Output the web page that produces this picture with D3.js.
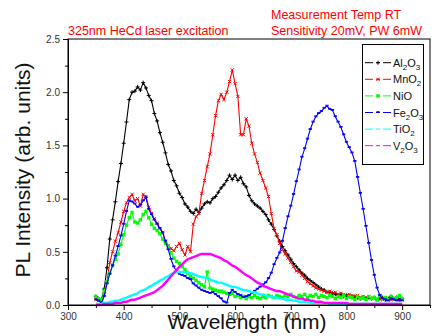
<!DOCTYPE html>
<html>
<head>
<meta charset="utf-8">
<script src="https://cdn.jsdelivr.net/npm/d3@7"></script>
<style>
  body { margin: 0; background: #fff; }
  svg { display: block; font-family: "Liberation Sans", Arial, sans-serif; }
</style>
</head>
<body>
<div id="chart"></div>
<script>
// sampling grid (nm), every 5 nm from 350 to 900
const wavelengths = d3.range(350, 901, 5);

const al2o3 = [
  0.08,0.06,0.05,0.15,0.35,0.62,0.80,0.97,1.16,1.33,
  1.52,1.72,1.93,2.00,2.01,2.05,2.02,2.09,2.04,1.97,
  1.92,1.80,1.73,1.62,1.53,1.43,1.32,1.26,1.17,1.12,
  1.05,1.01,0.95,0.92,0.88,0.86,0.90,0.87,0.91,0.95,
  0.97,0.96,1.00,1.02,1.06,1.10,1.13,1.17,1.22,1.18,
  1.22,1.17,1.20,1.14,1.11,1.03,0.98,0.95,0.93,0.91,
  0.88,0.85,0.80,0.76,0.71,0.65,0.60,0.55,0.51,0.47,
  0.43,0.39,0.36,0.33,0.30,0.28,0.25,0.23,0.21,0.19,
  0.17,0.15,0.14,0.12,0.12,0.11,0.10,0.09,0.10,0.08,
  0.09,0.08,0.07,0.08,0.07,0.06,0.07,0.06,0.07,0.06,
  0.07,0.05,0.06,0.07,0.05,0.06,0.08,0.06,0.07,0.05,
  0.06];

const mno2 = [
  0.05,0.04,0.03,0.10,0.22,0.40,0.50,0.60,0.68,0.78,
  0.88,0.96,1.01,1.04,0.98,1.00,0.93,1.04,1.02,0.92,
  0.86,0.81,0.77,0.72,0.68,0.60,0.56,0.53,0.51,0.55,
  0.58,0.52,0.47,0.55,0.50,0.76,0.83,0.86,1.05,1.17,
  1.30,1.42,1.60,1.78,1.92,1.98,1.93,2.00,2.10,2.21,
  2.08,1.96,1.60,1.60,1.75,1.68,1.52,1.42,1.34,1.24,
  1.17,1.10,1.02,0.86,0.72,0.66,0.58,0.52,0.48,0.44,
  0.40,0.36,0.32,0.31,0.28,0.25,0.22,0.20,0.18,0.16,
  0.15,0.14,0.13,0.12,0.13,0.11,0.12,0.10,0.11,0.10,
  0.09,0.10,0.09,0.08,0.09,0.07,0.08,0.07,0.08,0.06,
  0.07,0.05,0.06,0.05,0.06,0.05,0.05,0.06,0.05,0.05,
  0.05];

const nio = [
  0.08,0.06,0.05,0.13,0.22,0.30,0.37,0.43,0.48,0.57,
  0.66,0.75,0.82,0.87,0.78,0.77,0.80,0.85,0.88,0.82,
  0.76,0.72,0.70,0.67,0.62,0.58,0.55,0.49,0.44,0.41,
  0.39,0.36,0.33,0.30,0.27,0.25,0.23,0.21,0.19,0.17,
  0.31,0.16,0.15,0.14,0.13,0.13,0.12,0.11,0.10,0.11,
  0.08,0.09,0.07,0.08,0.06,0.08,0.07,0.09,0.07,0.06,
  0.08,0.07,0.09,0.08,0.07,0.09,0.08,0.07,0.09,0.08,
  0.10,0.08,0.07,0.09,0.08,0.10,0.07,0.09,0.08,0.10,
  0.07,0.09,0.08,0.07,0.09,0.08,0.06,0.08,0.07,0.09,
  0.06,0.08,0.07,0.05,0.08,0.06,0.07,0.05,0.08,0.06,
  0.07,0.05,0.09,0.06,0.07,0.05,0.08,0.06,0.07,0.09,
  0.06];

const fe2o3 = [
  0.05,0.04,0.02,0.08,0.20,0.29,0.37,0.46,0.55,0.65,
  0.76,0.88,0.98,0.97,0.95,0.92,0.94,0.98,1.01,0.90,
  0.85,0.80,0.76,0.72,0.68,0.60,0.52,0.43,0.36,0.32,
  0.29,0.28,0.27,0.25,0.24,0.20,0.18,0.16,0.14,0.13,
  0.12,0.11,0.12,0.10,0.08,0.06,0.03,0.02,0.11,0.14,
  0.12,0.10,0.09,0.07,0.08,0.09,0.11,0.13,0.15,0.17,
  0.19,0.21,0.25,0.30,0.38,0.44,0.49,0.60,0.72,0.83,
  0.93,1.04,1.16,1.27,1.39,1.47,1.56,1.65,1.72,1.77,
  1.80,1.82,1.85,1.87,1.84,1.83,1.77,1.72,1.67,1.60,
  1.53,1.48,1.43,1.35,1.20,1.05,0.90,0.74,0.58,0.42,
  0.28,0.16,0.09,0.06,0.05,0.04,0.06,0.05,0.04,0.05,
  0.04];

const tio2 = [
  0.01,0.01,0.01,0.02,0.02,0.03,0.03,0.04,0.04,0.05,
  0.06,0.07,0.08,0.09,0.10,0.11,0.13,0.14,0.15,0.17,
  0.18,0.20,0.21,0.23,0.24,0.26,0.27,0.29,0.30,0.31,
  0.31,0.31,0.31,0.30,0.30,0.29,0.28,0.27,0.26,0.26,
  0.25,0.24,0.23,0.22,0.21,0.21,0.20,0.19,0.18,0.17,
  0.17,0.16,0.15,0.14,0.14,0.13,0.12,0.12,0.11,0.10,
  0.10,0.09,0.08,0.08,0.07,0.07,0.06,0.06,0.05,0.05,
  0.05,0.04,0.04,0.03,0.03,0.03,0.03,0.02,0.02,0.02,
  0.02,0.02,0.02,0.02,0.01,0.01,0.01,0.01,0.01,0.01,
  0.01,0.01,0.01,0.01,0.01,0.01,0.01,0.01,0.01,0.01,
  0.01,0.01,0.01,0.01,0.01,0.01,0.01,0.01,0.01,0.01,
  0.01];

const v2o3 = [
  0.00,0.00,0.00,0.01,0.01,0.01,0.01,0.02,0.02,0.02,
  0.03,0.03,0.04,0.05,0.05,0.06,0.07,0.08,0.09,0.10,
  0.11,0.12,0.14,0.16,0.18,0.21,0.24,0.27,0.30,0.33,
  0.36,0.38,0.41,0.43,0.44,0.45,0.46,0.47,0.48,0.48,
  0.48,0.48,0.47,0.46,0.45,0.44,0.42,0.41,0.39,0.37,
  0.36,0.34,0.32,0.30,0.28,0.27,0.25,0.23,0.21,0.20,
  0.18,0.17,0.16,0.15,0.14,0.13,0.13,0.12,0.11,0.10,
  0.09,0.08,0.07,0.06,0.06,0.05,0.05,0.04,0.04,0.03,
  0.03,0.03,0.02,0.02,0.02,0.02,0.02,0.02,0.02,0.02,
  0.02,0.01,0.01,0.01,0.01,0.01,0.01,0.01,0.01,0.01,
  0.01,0.01,0.01,0.01,0.01,0.01,0.01,0.01,0.01,0.01,
  0.01];

const xTicks = [300, 400, 500, 600, 700, 800, 900];
const xMinor = [350, 450, 550, 650, 750, 850, 950];
const yTicks = [0, 0.5, 1.0, 1.5, 2.0, 2.5];
const yMinor = [0.25, 0.75, 1.25, 1.75, 2.25];

// legend names: [base, sub, base, sub]
const series = [
  { name: ['Al', '2', 'O', '3'], values: al2o3, color: '#000000', mark: 'plus' },
  { name: ['MnO', '2'], values: mno2, color: '#ff0000', mark: 'x' },
  { name: ['NiO'], values: nio, color: '#00ff00', mark: 'square' },
  { name: ['Fe', '2', 'O', '3'], values: fe2o3, color: '#0000ff', mark: 'dash' },
  { name: ['TiO', '2'], values: tio2, color: '#00ffff', mark: 'dot' },
  { name: ['V', '2', 'O', '3'], values: v2o3, color: '#ff00ff', mark: 'dot' }
];

const W = 436, H = 336;
const margin = { top: 39, right: 6, bottom: 31, left: 68 };
const w = W - margin.left - margin.right;
const h = H - margin.top - margin.bottom;

const svg = d3.select('#chart').append('svg')
  .attr('width', W)
  .attr('height', H);

const x = d3.scaleLinear().domain([300, 950]).range([0, w]);
const y = d3.scaleLinear().domain([0, 2.5]).range([h, 0]);

const g = svg.append('g')
  .attr('transform', 'translate(' + margin.left + ',' + margin.top + ')');

// curves
const line = d3.line()
  .x((d, i) => x(wavelengths[i]))
  .y(d => y(d));

const markPath = {
  plus: 'M-2,0H2M0,-2V2',
  x: 'M-1.6,-1.6L1.6,1.6M-1.6,1.6L1.6,-1.6',
  dash: 'M-1.6,0H1.6M-1.6,-0.8H1.6'
};

series.forEach(s => {
  const thick = s.mark === 'dot';
  g.append('path')
    .attr('d', line(s.values))
    .attr('fill', 'none')
    .attr('stroke', s.color)
    .attr('stroke-width', thick ? 2.4 : 1.1)
    .attr('stroke-linejoin', 'round');

  if (s.mark === 'square') {
    g.append('g').selectAll('rect')
      .data(s.values)
      .enter().append('rect')
      .attr('x', (d, i) => x(wavelengths[i]) - 1.7)
      .attr('y', d => y(d) - 1.7)
      .attr('width', 3.4)
      .attr('height', 3.4)
      .attr('fill', s.color);
  } else if (markPath[s.mark]) {
    g.append('g').selectAll('path')
      .data(s.values)
      .enter().append('path')
      .attr('transform', (d, i) => 'translate(' + x(wavelengths[i]) + ',' + y(d) + ')')
      .attr('d', markPath[s.mark])
      .attr('stroke', s.color)
      .attr('stroke-width', 1)
      .attr('fill', 'none');
  }
});

// frame
g.append('rect')
  .attr('width', w)
  .attr('height', h)
  .attr('fill', 'none')
  .attr('stroke', '#000')
  .attr('stroke-width', 1);

// axes
g.append('g')
  .attr('transform', 'translate(0,' + h + ')')
  .call(d3.axisBottom(x).tickValues(xTicks).tickSize(5).tickSizeOuter(0));
g.append('g')
  .attr('transform', 'translate(0,' + h + ')')
  .call(d3.axisBottom(x).tickValues(xMinor).tickSize(3).tickFormat('').tickSizeOuter(0));

g.append('g')
  .call(d3.axisLeft(y).tickValues(yTicks).tickSize(5).tickFormat(d3.format('.1f')).tickSizeOuter(0));
g.append('g')
  .call(d3.axisLeft(y).tickValues(yMinor).tickSize(3).tickFormat('').tickSizeOuter(0));

svg.selectAll('.domain').attr('stroke', '#000');
svg.selectAll('.tick line').attr('stroke', '#000');
svg.selectAll('.tick text')
  .attr('fill', '#333')
  .style('font-size', '10px')
  .style('font-family', '"Liberation Sans", Arial, sans-serif');

// axis titles
svg.append('text')
  .attr('transform', 'translate(30,' + (margin.top + h / 2 - 2) + ') rotate(-90)')
  .attr('text-anchor', 'middle')
  .style('font-size', '21px')
  .attr('fill', '#111')
  .text('PL Intensity (arb. units)');

svg.append('text')
  .attr('x', 247)
  .attr('y', 329)
  .attr('text-anchor', 'middle')
  .style('font-size', '21px')
  .attr('fill', '#111')
  .text('Wavelength (nm)');

// red notes
const notes = [
  { t: '325nm HeCd laser excitation', x: 68, y: 35 },
  { t: 'Measurement Temp RT', x: 271, y: 19 },
  { t: 'Sensitivity 20mV, PW 6mW', x: 271, y: 35 }
];
svg.selectAll('.note')
  .data(notes)
  .enter().append('text')
  .attr('class', 'note')
  .attr('x', d => d.x)
  .attr('y', d => d.y)
  .attr('fill', '#ff0000')
  .style('font-size', '12.5px')
  .text(d => d.t);

// legend
const legend = svg.append('g');
legend.append('rect')
  .attr('x', 362.5).attr('y', 44.5)
  .attr('width', 61).attr('height', 120)
  .attr('fill', '#fff')
  .attr('stroke', '#000');

series.forEach((s, i) => {
  const ly = 62.7 + i * 16.6;
  const row = legend.append('g');
  row.append('line')
    .attr('x1', 365).attr('x2', 391)
    .attr('y1', ly).attr('y2', ly)
    .attr('stroke', s.color)
    .attr('stroke-width', 1)
    .attr('stroke-dasharray', '8,3,4,3,8');
  if (s.mark === 'square') {
    row.append('rect').attr('x', 376.3).attr('y', ly - 1.7)
      .attr('width', 3.4).attr('height', 3.4).attr('fill', s.color);
  } else if (markPath[s.mark]) {
    row.append('path')
      .attr('transform', 'translate(378,' + ly + ')')
      .attr('d', markPath[s.mark])
      .attr('stroke', s.color).attr('fill', 'none');
  }
  const txt = row.append('text')
    .attr('x', 393).attr('y', ly + 4)
    .style('font-size', '11px')
    .attr('fill', '#111');
  s.name.forEach((part, k) => {
    if (k % 2 === 1) {
      txt.append('tspan').attr('dy', 3).style('font-size', '8px').text(part);
    } else {
      txt.append('tspan').attr('dy', k === 0 ? 0 : -3).text(part);
    }
  });
});
</script>
</body>
</html>
